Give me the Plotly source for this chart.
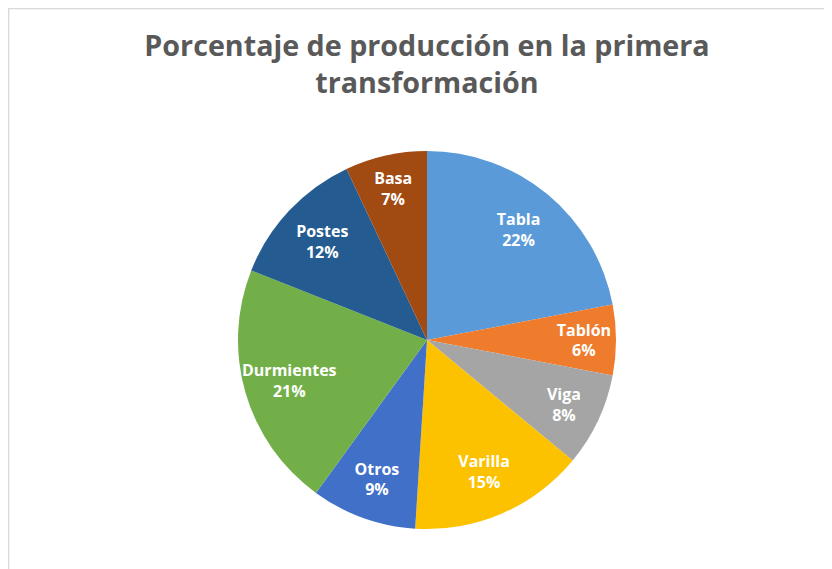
import math
import plotly.graph_objects as go

categories = ["Tabla", "Tablón", "Viga", "Varilla", "Otros", "Durmientes", "Postes", "Basa"]
values = [22, 6, 8, 15, 9, 21, 12, 7]
colors = ["#5A9AD8", "#EF7B2C", "#A5A5A5", "#FCC200", "#4070C8", "#72AF48", "#245B90", "#A14A12"]

W, H = 832, 569
off = 8  # browser body margin
cx, cy, r = 427 - off, 340 - off, 189
dom = dict(x=[(cx - r) / W, (cx + r) / W], y=[(H - cy - r) / H, (H - cy + r) / H])
label_font = dict(family="Open Sans", size=16, color="white", weight="bold")

# Plotly centres horizontal text on the 9 o'clock axis for the slice crossing it;
# place that one label at its mid-angle instead (computed from the values).
special = "Durmientes"
total = sum(values)
templates = []
annotations = []
cum = 0
for cat, v in zip(categories, values):
    if cat == special:
        templates.append(" ")
        ang = 2 * math.pi * (cum + v / 2) / total
        rr = 0.76 * r
        px = cx + rr * math.sin(ang)
        py = cy - rr * math.cos(ang)
        annotations.append(dict(
            x=px / W, y=1 - py / H, xref="paper", yref="paper", showarrow=False,
            text=f"<b>{cat}<br>{round(100 * v / total)}%</b>", font=label_font,
            xanchor="center", yanchor="middle"))
    else:
        templates.append("%{label}<br>%{percent:.0%}")
    cum += v

fig = go.Figure()
fig.add_trace(go.Pie(
    labels=categories, values=values, sort=False, direction="clockwise", rotation=0,
    marker=dict(colors=colors, line=dict(width=0)),
    textinfo="none", domain=dom, showlegend=False,
    hoverinfo="label+percent",
))
fig.add_trace(go.Pie(
    labels=categories, values=values, sort=False, direction="clockwise", rotation=0,
    hole=0.52,
    marker=dict(colors=["rgba(0,0,0,0)"] * len(values), line=dict(width=0)),
    texttemplate=templates,
    textposition="inside",
    insidetextorientation="horizontal",
    textfont=label_font,
    domain=dom, showlegend=False, hoverinfo="skip",
))

fig.update_layout(
    width=W, height=H,
    margin=dict(l=0, r=0, t=0, b=0),
    paper_bgcolor="white",
    plot_bgcolor="white",
    title=dict(
        text="Porcentaje de producción en la primera<br>transformación",
        x=cx / W, xanchor="center",
        y=1 - 48 / H, yanchor="top",
        font=dict(family="Open Sans", size=28.7, color="#595959", weight="bold"),
    ),
    annotations=annotations,
    shapes=[dict(type="rect", xref="paper", yref="paper",
                 x0=0.6 / W, x1=1.02, y0=-0.02, y1=1 - 0.6 / H,
                 line=dict(color="#D9D9D9", width=1.5), fillcolor="rgba(0,0,0,0)")],
)

fig.write_html("out.html")
